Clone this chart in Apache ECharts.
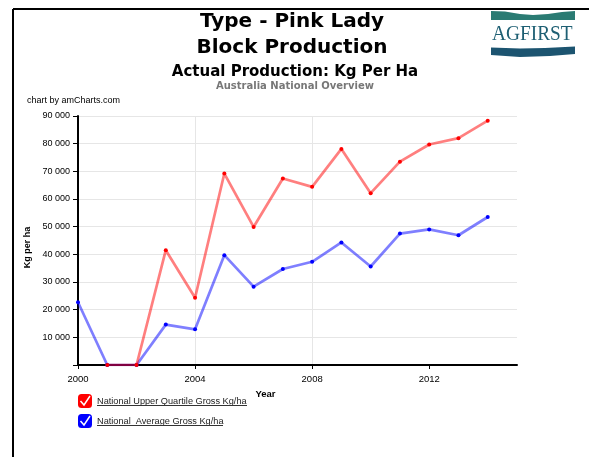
<!DOCTYPE html>
<html>
<head>
<meta charset="utf-8">
<script src="https://cdn.jsdelivr.net/npm/echarts@6/dist/echarts.min.js"></script>
<style>
html,body{margin:0;padding:0;background:#fff;}
#chart{width:589px;height:457px;}
</style>
</head>
<body>
<div id="chart"></div>
<script>
var years = [2000, 2001, 2002, 2003, 2004, 2005, 2006, 2007, 2008, 2009, 2010, 2011, 2012, 2013, 2014];
var upperQuartile = [null, 0, 0, 41500, 24300, 69200, 49900, 67400, 64400, 78100, 62100, 73500, 79700, 82000, 88300];
var average = [22700, 0, 0, 14600, 12900, 39700, 28300, 34700, 37300, 44300, 35600, 47500, 49000, 46900, 53500];
var seriesNames = ['National Upper Quartile Gross Kg/ha', 'National  Average Gross Kg/ha'];
var xTicks = [2000, 2004, 2008, 2012];

function pairs(vals) {
  var out = [];
  for (var i = 0; i < years.length; i++) {
    if (vals[i] !== null) out.push([years[i], vals[i]]);
  }
  return out;
}

var chart = echarts.init(document.getElementById('chart'), null, {renderer: 'canvas'});
var font = 'DejaVu Sans, Verdana, sans-serif';
var smallFont = 'Liberation Sans, Arial, sans-serif';

var option = {
  backgroundColor: '#fff',
  animation: false,
  title: [
    {text: 'Type - Pink Lady', left: 292, top: 12, textAlign: 'center', padding: 0,
     textStyle: {fontFamily: font, fontWeight: 'bold', fontSize: 20, color: '#000'}},
    {text: 'Block Production', left: 292, top: 38, textAlign: 'center', padding: 0,
     textStyle: {fontFamily: font, fontWeight: 'bold', fontSize: 20, color: '#000'}},
    {text: 'Actual Production: Kg Per Ha', left: 295, top: 65, textAlign: 'center', padding: 0,
     textStyle: {fontFamily: font, fontWeight: 'bold', fontSize: 15, color: '#000'}},
    {text: 'Australia National Overview', left: 295, top: 81, textAlign: 'center', padding: 0,
     textStyle: {fontFamily: font, fontWeight: 'bold', fontSize: 10, color: '#777'}},
    {text: 'chart by amCharts.com', left: 27, top: 96, padding: 0,
     textStyle: {fontFamily: smallFont, fontWeight: 'normal', fontSize: 9, color: '#000'}}
  ],
  grid: {left: 78, right: 72, top: 116, bottom: 92, containLabel: false},
  xAxis: {
    type: 'value', min: 2000, max: 2015, interval: 4,
    name: 'Year', nameLocation: 'middle', nameGap: 16,
    nameTextStyle: {fontFamily: smallFont, fontWeight: 'bold', fontSize: 9.5, color: '#000', padding: [0, 64, 0, 0]},
    axisLine: {lineStyle: {color: '#000', width: 2}},
    axisTick: {show: true, length: 4, customValues: xTicks, lineStyle: {color: '#000'}},
    axisLabel: {fontFamily: smallFont, fontSize: 9.5, color: '#000', margin: 9,
      formatter: function (v) { return xTicks.indexOf(v) >= 0 ? String(v) : ''; }},
    splitLine: {show: true, showMaxLine: false, lineStyle: {color: '#e6e6e6', width: 1}}
  },
  yAxis: {
    type: 'value', min: 0, max: 90000, interval: 10000,
    name: 'Kg per ha', nameLocation: 'middle', nameGap: 32, nameRotate: 90,
    nameTextStyle: {fontFamily: smallFont, fontWeight: 'bold', fontSize: 9, color: '#000', padding: [0, 14, 0, 0]},
    axisLine: {show: true, lineStyle: {color: '#000', width: 2}},
    axisTick: {show: true, length: 5, lineStyle: {color: '#000'}},
    axisLabel: {fontFamily: smallFont, fontSize: 9, color: '#000', margin: 8,
      formatter: function (v) {
        if (v === 0) return '';
        return String(v).replace(/\B(?=(\d{3})+(?!\d))/g, ' ');
      }},
    splitLine: {show: true, lineStyle: {color: '#e6e6e6', width: 1}}
  },
  legend: {
    orient: 'vertical', left: 78, top: 394, itemGap: 6, itemWidth: 14, itemHeight: 14,
    padding: 0, selectedMode: false,
    icon: 'roundRect',
    textStyle: {fontFamily: smallFont, fontSize: 9.2, color: '#222'},
    data: seriesNames
  },
  series: [
    {name: seriesNames[0], type: 'line', data: pairs(upperQuartile),
     symbol: 'circle', symbolSize: 4, showSymbol: true,
     itemStyle: {color: '#ff0000'},
     lineStyle: {color: 'rgba(255,0,0,0.5)', width: 2.7}, z: 3},
    {name: seriesNames[1], type: 'line', data: pairs(average),
     symbol: 'circle', symbolSize: 4, showSymbol: true,
     itemStyle: {color: '#0000ff'},
     lineStyle: {color: 'rgba(0,0,255,0.5)', width: 2.7}, z: 2}
  ],
  graphic: [
    {type: 'line', shape: {x1: 13, y1: 9, x2: 589, y2: 9}, style: {stroke: '#000', lineWidth: 2}},
    {type: 'line', shape: {x1: 13, y1: 9, x2: 13, y2: 457}, style: {stroke: '#000', lineWidth: 2}},
    {type: 'polygon', shape: {points: [[491,11],[505,11.5],[520,14],[533,15],[548,14],[562,12],[575,11],[575,20],[491,20]]},
     style: {fill: '#2a7b73'}},
    {type: 'text', x: 492, y: 23, scaleX: 0.88, style: {x: 0, y: 0, text: 'AGFIRST', verticalAlign: 'top',
      fontFamily: 'Liberation Serif, Times New Roman, serif', fontSize: 22, fill: '#1e5f73'}},
    {type: 'polygon', shape: {points: [[491,47.5],[520,48.5],[545,48],[575,46.5],[575,54],[550,56],[520,57],[491,55]]},
     style: {fill: '#1c5470'}},
    {type: 'polyline', shape: {points: [[80.5, 401], [84, 405], [90, 396]]}, style: {stroke: '#fff', lineWidth: 1.5, fill: null}, z: 100},
    {type: 'polyline', shape: {points: [[80.5, 421], [84, 425], [90, 416]]}, style: {stroke: '#fff', lineWidth: 1.5, fill: null}, z: 100},
    {type: 'line', shape: {x1: 97, y1: 405.5, x2: 247, y2: 405.5}, style: {stroke: '#333', lineWidth: 1}, z: 100},
    {type: 'line', shape: {x1: 97, y1: 425.5, x2: 223, y2: 425.5}, style: {stroke: '#333', lineWidth: 1}, z: 100}
  ]
};
chart.setOption(option);
</script>
</body>
</html>
